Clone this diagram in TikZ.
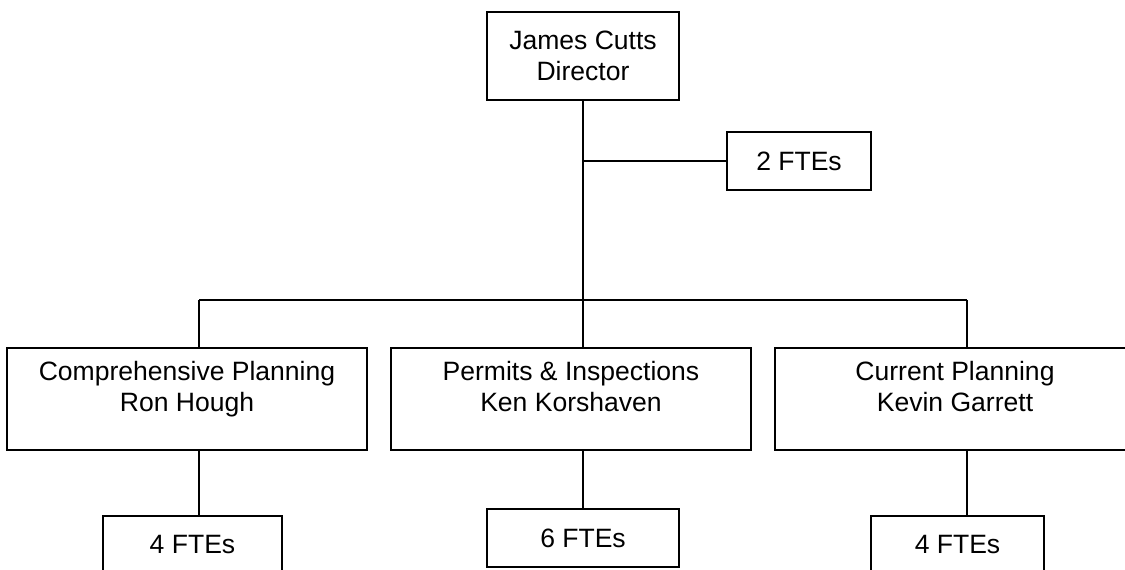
\documentclass[tikz,border=0pt]{standalone}
\usepackage{fontspec}
\setmainfont{Liberation Sans}
\usetikzlibrary{positioning}

\begin{document}
\begin{tikzpicture}[
    x=0.75pt, y=-0.75pt,
    font={\fontsize{19.9}{23}\selectfont},
    box/.style={rectangle, draw, line width=1.5pt, inner sep=0pt, align=center},
    unit/.style={box, minimum width=270pt, minimum height=76.5pt,
                 execute at begin node=\strut,
                 execute at end node={\rule[-18.6pt]{0pt}{0pt}}},
    staffbox/.style={box, minimum height=43.5pt},
    link/.style={line width=1.5pt}
  ]
    \clip (0,0) rectangle (1125,570);

    \node[box, minimum width=144pt, minimum height=66pt] (dir) at (583,56) {James Cutts\\Director};
    \node[staffbox, minimum width=108pt] (staff) at (799,161) {2 FTEs};

    \node[unit] (comp) at (187,399) {Comprehensive Planning\\Ron Hough};
    \node[unit] (perm) at (571,399) {Permits \& Inspections\\Ken Korshaven};
    \node[unit] (curr) at (955,399) {Current Planning\\Kevin Garrett};

    \node[staffbox, minimum width=134.25pt] (fte1) at (192.5,545) {4 FTEs};
    \node[staffbox, minimum width=144pt] (fte2) at (583,538) {6 FTEs};
    \node[staffbox, minimum width=129.75pt] (fte3) at (957.5,545) {4 FTEs};

    \coordinate (busL) at (199,300);
    \coordinate (busR) at (967,300);

    \draw[link] (dir.south) -- (dir.south |- busL);
    \draw[link] (dir.south |- staff.west) -- (staff.west);
    \draw[link] (busL) -- (busR);
    \draw[link] (busL) -- (busL |- comp.north);
    \draw[link] (dir.south |- busL) -- (dir.south |- perm.north);
    \draw[link] (busR) -- (busR |- curr.north);
    \draw[link] (busL |- comp.south) -- (busL |- fte1.north);
    \draw[link] (fte2.north |- perm.south) -- (fte2.north);
    \draw[link] (busR |- curr.south) -- (busR |- fte3.north);
  \end{tikzpicture}
\end{document}
